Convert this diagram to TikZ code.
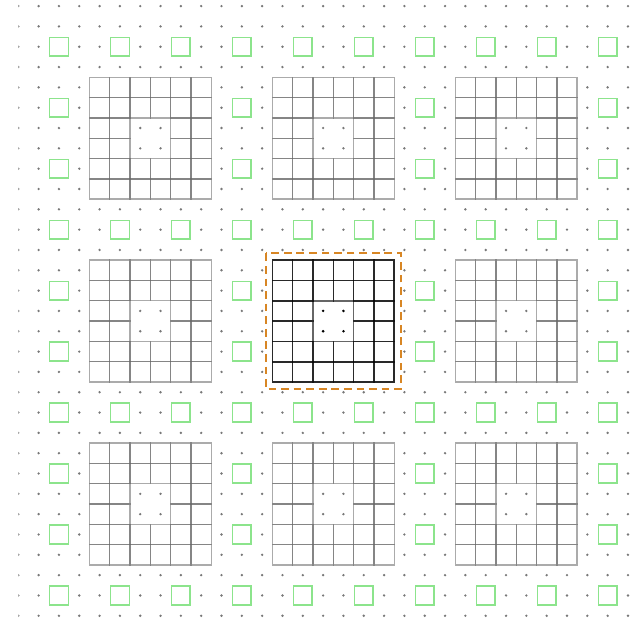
\documentclass[tikz,border=0pt]{standalone}
\usepackage{tikz}
\definecolor{dotgray}{RGB}{120,120,120}
\definecolor{sqgreen}{RGB}{140,228,140}
\definecolor{selorange}{RGB}{216,134,36}
\begin{document}
\begin{tikzpicture}[x=0.5cm,y=-0.5cm,
  griddot/.style={fill=dotgray},
  holedot/.style={fill=black},
  graycell/.style={draw=black!60,draw opacity=0.55,line width=0.95pt},
  darkcell/.style={draw=black,draw opacity=0.6,line width=1.1pt},
  greensq/.style={draw=sqgreen,line width=1.05pt},
  selbox/.style={draw=selorange,line width=1.4pt,dash pattern=on 5.4pt off 3.4pt}]
\useasboundingbox (-2.9,-2.3) rectangle (28.1,28.1);
% grid dots
\begin{scope}
\clip (-2,-2.5) rectangle (28.5,28.5);
\foreach \x in {-2,...,28}{
  \foreach \y in {-2,...,28}{
    \pgfmathtruncatemacro\inr{and(and(\x>=0,\x<=27),and(\y>=0,\y<=27))}
    \pgfmathtruncatemacro\xm{mod(\x+18,9)}
    \pgfmathtruncatemacro\ym{mod(\y+18,9)}
    \pgfmathtruncatemacro\xt{mod(\x+18,3)}
    \pgfmathtruncatemacro\yt{mod(\y+18,3)}
    \pgfmathtruncatemacro\gr{and(\inr,or(and(\xm==0,\yt==0),and(\ym==0,\xt==0)))}
    \pgfmathtruncatemacro\cellin{and(and(\xm>=2,\xm<=7),and(\ym>=2,\ym<=7))}
    \pgfmathtruncatemacro\holein{and(and(\xm>=4,\xm<=5),and(\ym>=4,\ym<=5))}
    \pgfmathtruncatemacro\bl{and(\inr,and(\cellin,\holein==0))}
    \pgfmathtruncatemacro\ctr{and(and(\x>=13,\x<=14),and(\y>=13,\y<=14))}
    \pgfmathtruncatemacro\skipit{or(or(\gr,\bl),\ctr)}
    \ifnum\skipit=0
      \fill[griddot] (\x,\y) circle (0.065);
    \fi
  }
}
\end{scope}
% green squares
\foreach \a in {0,3,...,27}{
  \foreach \b in {0,9,18,27}{
    \draw[greensq] (\a-0.46,\b-0.46) rectangle (\a+0.46,\b+0.46);
  }
}
\foreach \a in {0,9,18,27}{
  \foreach \b in {3,6,12,15,21,24}{
    \draw[greensq] (\a-0.46,\b-0.46) rectangle (\a+0.46,\b+0.46);
  }
}
% gray blocks
\foreach \bx/\by in {0/0,9/0,18/0,0/9,18/9,0/18,9/18,18/18}{
  \foreach \i in {2,...,7}{
    \foreach \j in {2,...,7}{
      \pgfmathtruncatemacro\hh{and(and(\i>=4,\i<=5),and(\j>=4,\j<=5))}
      \ifnum\hh=0
        \draw[graycell] (\bx+\i-0.5,\by+\j-0.5) rectangle (\bx+\i+0.5,\by+\j+0.5);
      \fi
    }
  }
}
% centre block
\foreach \i in {11,...,16}{
  \foreach \j in {11,...,16}{
    \pgfmathtruncatemacro\hh{and(and(\i>=13,\i<=14),and(\j>=13,\j<=14))}
    \ifnum\hh=0
      \draw[darkcell] (\i-0.5,\j-0.5) rectangle (\i+0.5,\j+0.5);
    \fi
  }
}
\draw[darkcell] (10.5,10.5) rectangle (16.5,16.5);
\foreach \x in {13,14}{
  \foreach \y in {13,14}{
    \fill[holedot] (\x,\y) circle (0.07);
  }
}
% selection frame
\draw[selbox] (10.17,10.17) rectangle (16.83,16.83);
\end{tikzpicture}
\end{document}
